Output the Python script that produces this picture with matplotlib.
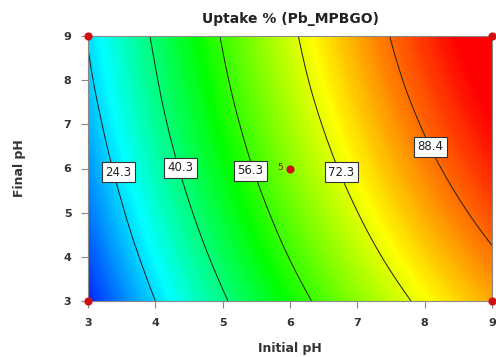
import numpy as np
import matplotlib
matplotlib.use("Agg")
import matplotlib.pyplot as plt
import matplotlib.tri as mtri
from matplotlib.colors import LinearSegmentedColormap

# Data
initial_ph = [3, 4, 5, 6, 7, 8, 9]
final_ph = [3, 4, 5, 6, 7, 8, 9]
uptake_y3 = [7.8, 24.3, 39.2, 52.4, 64.1, 74.2, 82.7]
uptake_y4 = [11.6, 28.2, 43.2, 56.6, 68.4, 78.6, 87.3]
uptake_y5 = [15.1, 31.7, 46.8, 60.3, 72.2, 82.6, 91.4]
uptake_y6 = [18.1, 34.8, 50.0, 63.6, 75.6, 86.1, 95.0]
uptake_y7 = [20.7, 37.5, 52.7, 66.4, 78.5, 89.1, 98.2]
uptake_y8 = [23.0, 39.7, 55.0, 68.8, 81.0, 91.7, 100.9]
uptake_y9 = [24.8, 41.6, 56.9, 70.7, 83.0, 93.8, 103.1]
contour_levels = [24.3, 40.3, 56.3, 72.3, 88.4]
label_x = [3.45, 4.37, 5.41, 6.76, 8.08]
label_y = [5.92, 6.02, 5.95, 5.92, 6.49]
design_x = [3, 3, 9, 9, 6]
design_y = [3, 9, 3, 9, 6]
ticks = [3, 4, 5, 6, 7, 8, 9]
color_min, color_max = 4.5, 98.5

Z = np.array([uptake_y3, uptake_y4, uptake_y5, uptake_y6, uptake_y7, uptake_y8, uptake_y9])
X, Y = np.meshgrid(initial_ph, final_ph)

tri = mtri.Triangulation(X.ravel(), Y.ravel())
interp = mtri.CubicTriInterpolator(tri, Z.ravel(), kind='min_E')
refiner = mtri.UniformTriRefiner(tri)
tri_f, z_f = refiner.refine_field(Z.ravel(), triinterpolator=interp, subdiv=4)

cmap = LinearSegmentedColormap.from_list(
    'de', ['#0000ff', '#00ffff', '#00ff00', '#ffff00', '#ff0000'])
cmap.set_over('#ff0000')

fig = plt.figure(figsize=(4.96, 3.57), dpi=100)
ax = fig.add_axes([88/496, 1-301/357, (492-88)/496, (301-36)/357])

ax.tricontourf(tri_f, z_f, levels=np.linspace(color_min, max(color_max, z_f.max()), 300),
               cmap=cmap, vmin=color_min, vmax=color_max)
ax.tricontour(tri_f, z_f, levels=contour_levels, colors='#202020',
              linewidths=0.7)

for lx, ly, lv in zip(label_x, label_y, contour_levels):
    ax.text(lx, ly, f"{lv:.1f}", ha='center', va='center', fontsize=8.5,
            color='#222222', zorder=5,
            bbox=dict(boxstyle='square,pad=0.3', fc='white', ec='#333333', lw=0.8))

ax.scatter(design_x, design_y, s=24, color='#d01010', zorder=6, clip_on=False)
ax.text(5.9, 6.03, "5", ha='right', va='center', fontsize=6.5, color='#8b1a1a', zorder=6)

ax.set_xlim(3, 9)
ax.set_ylim(3, 9)
ax.set_xticks(ticks)
ax.set_yticks(ticks)
ax.tick_params(axis='both', direction='out', length=5, width=0.8, color='#888888',
               labelsize=8, labelcolor='#333333', pad=7)
for lab in ax.get_xticklabels() + ax.get_yticklabels():
    lab.set_fontweight('bold')
for sp in ax.spines.values():
    sp.set_color('#888888')
    sp.set_linewidth(0.8)

ax.set_title("Uptake % (Pb_MPBGO)", fontsize=10, fontweight='bold', color='#222222', pad=9)
ax.set_xlabel("Initial pH", fontsize=9, fontweight='bold', color='#333333', labelpad=10)
ax.set_ylabel("Final pH", fontsize=9, fontweight='bold', color='#333333', labelpad=27)

fig.savefig("out.png", dpi=100)
